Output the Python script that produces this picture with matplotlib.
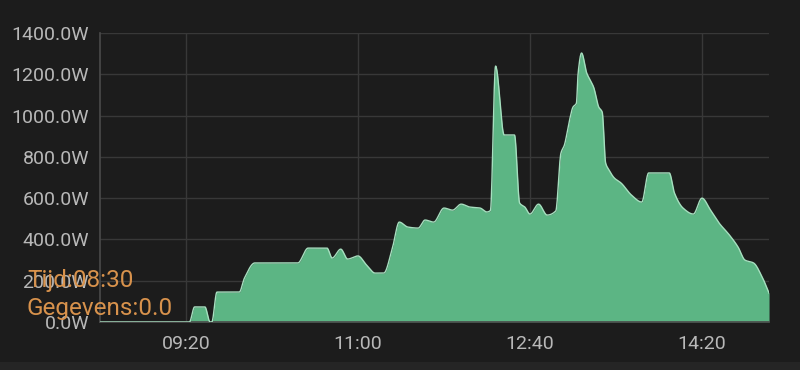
import numpy as np
import matplotlib
matplotlib.use("Agg")
import matplotlib.pyplot as plt
from matplotlib.patches import Rectangle

# ---- data ----
times = ["08:30", "09:20", "09:22", "09:25", "09:31", "09:34", "09:35", "09:38",
         "09:51", "09:54", "10:00", "10:25", "10:31", "10:42", "10:45", "10:50",
         "10:54", "11:00", "11:05", "11:10", "11:15", "11:20", "11:24", "11:29",
         "11:35", "11:39", "11:44", "11:50", "11:55", "12:00", "12:05", "12:11",
         "12:15", "12:17", "12:20", "12:25", "12:31", "12:34", "12:37", "12:40",
         "12:45", "12:50", "12:55", "12:58", "13:00", "13:03", "13:05", "13:07",
         "13:08", "13:10", "13:13", "13:15", "13:17", "13:20", "13:22", "13:24",
         "13:26", "13:29", "13:33", "13:39", "13:45", "13:49", "14:01", "14:04",
         "14:09", "14:15", "14:20", "14:25", "14:30", "14:36", "14:41", "14:45",
         "14:50", "14:55", "14:59"]
power = [0, 0, 0, 73, 73, 0, 0, 145,
         145, 213, 286, 286, 358, 358, 310, 353,
         305, 320, 276, 237, 237, 358, 484, 460,
         455, 494, 484, 552, 542, 571, 557, 552,
         533, 540, 1240, 906, 906, 576, 557, 523,
         571, 518, 538, 818, 857, 978, 1041, 1060,
         1206, 1303, 1206, 1172, 1138, 1041, 1017, 770,
         736, 698, 673, 615, 581, 722, 722, 625,
         552, 523, 600, 542, 479, 421, 363, 300,
         286, 218, 140]
x_ticks = ["09:20", "11:00", "12:40", "14:20"]
y_ticks = [0, 200, 400, 600, 800, 1000, 1200, 1400]
tooltip_time = "08:30"
tooltip_value = 0.0


def to_min(s):
    h, m = s.split(":")
    return int(h) * 60 + int(m)


def pchip(x, y, xs):
    x = np.asarray(x, float)
    y = np.asarray(y, float)
    h = np.diff(x)
    d = np.diff(y) / h
    n = len(x)
    m = np.zeros(n)
    for k in range(1, n - 1):
        if d[k - 1] * d[k] <= 0:
            m[k] = 0
        else:
            w1 = 2 * h[k] + h[k - 1]
            w2 = h[k] + 2 * h[k - 1]
            m[k] = (w1 + w2) / (w1 / d[k - 1] + w2 / d[k])
    m[0] = d[0]
    m[-1] = d[-1]
    idx = np.clip(np.searchsorted(x, xs) - 1, 0, n - 2)
    t = (xs - x[idx]) / h[idx]
    h00 = 2 * t**3 - 3 * t**2 + 1
    h10 = t**3 - 2 * t**2 + t
    h01 = -2 * t**3 + 3 * t**2
    h11 = t**3 - t**2
    return (h00 * y[idx] + h10 * h[idx] * m[idx]
            + h01 * y[idx + 1] + h11 * h[idx] * m[idx + 1])


tx = np.array([to_min(s) for s in times], float)
xs = np.linspace(tx[0], tx[-1], 2000)
ys = pchip(tx, power, xs)

BG = "#1c1c1c"
GRID = "#383838"
TXT = "#b8b8b8"

plt.rcParams["font.family"] = ["Roboto", "DejaVu Sans"]

fig = plt.figure(figsize=(8, 3.7), dpi=100, facecolor=BG)
ax = fig.add_axes([0.125, 0.1297, 0.8363, 0.7811])
ax.set_facecolor(BG)

ax.fill_between(xs, 0, ys, color="#5cb584", lw=0, zorder=2)
ax.plot(xs, ys, color="#a6dfbf", lw=1.0, zorder=3)

ax.set_xlim(tx[0], tx[-1])
ax.set_ylim(0, 1400)
ax.set_yticks(y_ticks)
ax.set_yticklabels([f"{v:.1f}W" for v in y_ticks])
ax.set_xticks([to_min(s) for s in x_ticks])
ax.set_xticklabels(x_ticks)
ax.tick_params(axis="both", length=0, colors=TXT, labelsize=14)
ax.tick_params(axis="y", pad=8)
ax.tick_params(axis="x", pad=9)
ax.grid(True, color=GRID, lw=1.0, zorder=1)
ax.set_axisbelow(True)
for side in ["top", "right"]:
    ax.spines[side].set_visible(False)
for side in ["left", "bottom"]:
    ax.spines[side].set_color("#4a4a4a")
    ax.spines[side].set_linewidth(1.2)

# bottom band
fig.patches.append(Rectangle((0, 0), 1, 8 / 370, transform=fig.transFigure,
                             facecolor="#252525", edgecolor="none", zorder=0))

# tooltip text (overlaps the 200.0W label, as in the original)
ORANGE = "#d8924c"
fig.text(27 / 800, 1 - 287 / 370, f"Tijd:{tooltip_time}", color=ORANGE,
         fontsize=17.5, ha="left", va="baseline")
fig.text(27 / 800, 1 - 315 / 370, f"Gegevens:{tooltip_value:.1f}", color=ORANGE,
         fontsize=17.5, ha="left", va="baseline")

fig.savefig("out.png", dpi=100, facecolor=BG)
